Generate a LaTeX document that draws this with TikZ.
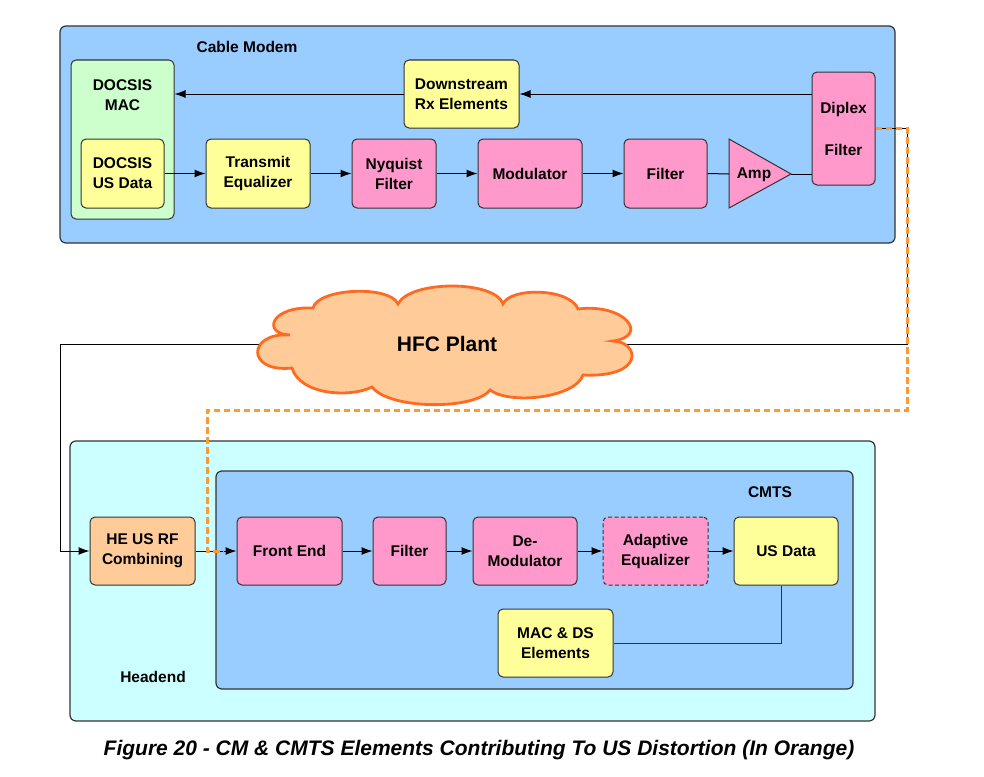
\documentclass[tikz,border=0pt]{standalone}
\usepackage{fontspec}
\setmainfont{Liberation Sans}
\usetikzlibrary{arrows.meta,calc}
\definecolor{bluebox}{HTML}{99CCFF}
\definecolor{cyanbox}{HTML}{CCFFFF}
\definecolor{greenbox}{HTML}{CCFFCC}
\definecolor{yellowbox}{HTML}{FFFF99}
\definecolor{pinkbox}{HTML}{FF99CC}
\definecolor{peachbox}{HTML}{FFCC99}
\definecolor{cloudline}{HTML}{FF6A22}
\definecolor{orangedash}{HTML}{FF9933}
\definecolor{bordercol}{HTML}{333333}
\newcommand{\boxfont}{\fontsize{15.5}{20}\selectfont\bfseries}
\tikzset{
  blk/.style={draw=bordercol, rounded corners=5pt, line width=1pt, align=center, inner sep=0pt, font=\boxfont},
  yel/.style={blk, fill=yellowbox},
  pnk/.style={blk, fill=pinkbox},
  container/.style={draw=bordercol, rounded corners=6pt, line width=1.2pt, inner sep=0pt},
  lbl/.style={font=\boxfont, inner sep=0pt, align=center},
  arr/.style={-{Latex[length=11pt,width=8pt]}, line width=1pt, black},
  wire/.style={line width=1pt, black},
  odash/.style={draw=orangedash, line width=3pt, dash pattern=on 6.5pt off 3.5pt},
  cloudstyle/.style={draw=cloudline, fill=peachbox, line width=2.8pt, line join=miter},
}
\begin{document}
\begin{tikzpicture}[x=1pt,y=-1pt]
\useasboundingbox (0,0) rectangle (984,776);

% Cable modem
\node[container, fill=bluebox, minimum width=835pt, minimum height=217pt] (cm) at (477.5,134.5) {};
\node[lbl] (cmlbl) at (247,47) {Cable Modem};
\node[blk, fill=greenbox, minimum width=103pt, minimum height=159pt] (mac) at (122.5,139.5) {};
\node[lbl] (mactxt) at (122.5,95) {DOCSIS\\MAC};
\node[yel, minimum width=83pt, minimum height=69pt] (usd) at (122.5,173.5) {DOCSIS\\US Data};
\node[yel, minimum width=104pt, minimum height=69pt] (teq) at (258,173.5) {Transmit\\Equalizer};
\node[pnk, minimum width=84pt, minimum height=69pt] (nyq) at (394,173.5) {Nyquist\\Filter};
\node[pnk, minimum width=104pt, minimum height=69pt] (mod) at (530,173.5) {Modulator};
\node[pnk, minimum width=83pt, minimum height=69pt] (filt) at (665.5,173.5) {Filter};
\draw[draw=bordercol, line width=1pt, fill=pinkbox] (729,139) -- (791,174) -- (729,208) -- cycle;
\coordinate (ampL) at (729,174);
\coordinate (ampR) at (791,174);
\node[lbl] (amp) at (754,175) {Amp};
\node[pnk, minimum width=63pt, minimum height=113pt] (dip) at (843.5,128.5) {Diplex\\[22pt]Filter};
\node[yel, minimum width=115pt, minimum height=68pt] (dse) at (461.5,94) {Downstream\\Rx Elements};

\draw[arr] (dip.west |- dse.east) -- (dse.east);
\draw[arr] (dse.west) -- (dse.west -| mac.east);
\draw[arr] (usd) -- (teq);
\draw[arr] (teq) -- (nyq);
\draw[arr] (nyq) -- (mod);
\draw[arr] (mod) -- (filt);
\draw[wire] (filt.east) -- (ampL);
\draw[wire] (ampR) -- (ampR -| dip.west);

% Headend
\node[container, fill=cyanbox, minimum width=805pt, minimum height=280pt] (he) at (472.5,581) {};
\node[lbl] (helbl) at (153,677) {Headend};
\node[container, fill=bluebox, minimum width=637pt, minimum height=218pt] (cmts) at (534.5,580) {};
\node[lbl] (cmtslbl) at (770,492) {CMTS};
\node[blk, fill=peachbox, minimum width=105pt, minimum height=68pt] (herf) at (142.5,551) {HE US RF\\Combining};
\node[pnk, minimum width=105pt, minimum height=68pt] (fe) at (289.5,551) {Front End};
\node[pnk, minimum width=73pt, minimum height=68pt] (filt2) at (409.5,551) {Filter};
\node[pnk, minimum width=104pt, minimum height=68pt] (demod) at (525,551) {De-\\Modulator};
\node[pnk, dashed, dash pattern=on 4pt off 2.5pt, minimum width=105pt, minimum height=68pt] (adeq) at (655.5,551) {Adaptive\\Equalizer};
\node[yel, minimum width=104pt, minimum height=68pt] (usdata) at (786,551) {US Data};
\node[yel, minimum width=115pt, minimum height=68pt] (macds) at (555.5,643) {MAC \& DS\\Elements};

\draw[arr] (herf) -- (fe);
\draw[arr] (fe) -- (filt2);
\draw[arr] (filt2) -- (demod);
\draw[arr] (demod) -- (adeq);
\draw[arr] (adeq) -- (usdata);
\draw[wire, draw=bordercol] ($(usdata.south)+(-5,0)$) |- (macds.east);

% plant wiring
\coordinate (c1) at (907,128.5);
\coordinate (c2) at (907,344);
\coordinate (c3) at (60,344);
\coordinate (c4) at (60,551);
\coordinate (cloudR) at (620,344);
\coordinate (cloudL) at (270,344);
\draw[wire] (dip.east) -- (c1) -- (c2) -- (cloudR);
\draw[wire] (cloudL) -- (c3) -- (c4);
\draw[arr] (c4) -- (herf.west);

% Cloud (HFC plant)
\draw[cloudstyle]
  (313,308) .. controls (318,288) and (390,285) .. (398,304)
            .. controls (410,280) and (495,280) .. (503,304)
            .. controls (510,287) and (570,288) .. (578,309)
            .. controls (625,303) and (650,336) .. (613,341)
            .. controls (640,342) and (645,378) .. (583,375)
            .. controls (575,398) and (510,405) .. (490,390)
            .. controls (475,410) and (390,410) .. (372,387)
            .. controls (350,398) and (300,395) .. (292,368)
            .. controls (246,373) and (247,332) .. (290,335)
            .. controls (262,334) and (270,306) .. cycle;
\node[font=\fontsize{21}{24}\selectfont\bfseries, inner sep=0pt] (hfc) at (447,344) {HFC Plant};

% orange dashed distortion path
\coordinate (o2) at (907,410);
\coordinate (o3) at (207,410);
\coordinate (o4) at (207,551);
\coordinate (o5) at (224,551);
\draw[odash] (dip.east) -- (c1) -- (o2) -- (o3) -- (o4) -- (o5);

% Caption
\node[font=\fontsize{21}{24}\selectfont\bfseries\itshape, inner sep=0pt] (cap) at (479,750)
  {Figure 20 - CM \& CMTS Elements Contributing To US Distortion (In Orange)};
\end{tikzpicture}
\end{document}
